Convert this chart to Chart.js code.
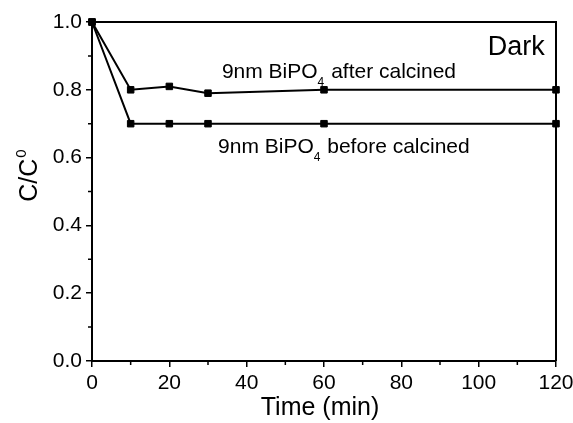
<!DOCTYPE html>
<html><head><meta charset="utf-8">
<script src="https://cdn.jsdelivr.net/npm/chart.js@4/dist/chart.umd.min.js"></script>
<style>html,body{margin:0;padding:0;background:#fff}#wrap{width:573px;height:423px}</style>
</head><body><div id="wrap"><canvas id="c" width="573" height="423"></canvas></div>
<script>
const times = [0, 10, 20, 30, 60, 120];
const afterCalcined = [1.0, 0.80, 0.81, 0.79, 0.80, 0.80];
const beforeCalcined = [1.0, 0.70, 0.70, 0.70, 0.70, 0.70];
const xTicks = [0, 20, 40, 60, 80, 100, 120];
const yTicks = [0.0, 0.2, 0.4, 0.6, 0.8, 1.0];
const xMinor = [10, 30, 50, 70, 90, 110];
const yMinor = [0.1, 0.3, 0.5, 0.7, 0.9];
const labelAfter = ["9nm BiPO", "4", " after calcined"];
const labelBefore = ["9nm BiPO", "4", " before calcined"];
const labelDark = "Dark";
const xTitle = "Time (min)";
const yTitle = ["C/C", "0"];
const FONT = '"Liberation Sans", Arial, sans-serif';

const toXY = (xs, ys) => xs.map((x, i) => ({x, y: ys[i]}));

const decor = {
  id: 'decor',
  afterDraw(chart) {
    const {ctx, chartArea: a, scales: {x, y}} = chart;
    ctx.save();
    ctx.strokeStyle = '#000';
    ctx.lineWidth = 2;
    // frame top & right
    ctx.beginPath();
    ctx.moveTo(a.left, a.top); ctx.lineTo(a.right, a.top); ctx.lineTo(a.right, a.bottom);
    ctx.stroke();
    // minor ticks
    ctx.lineWidth = 1.5;
    ctx.beginPath();
    xMinor.forEach(v => { const px = x.getPixelForValue(v); ctx.moveTo(px, a.bottom); ctx.lineTo(px, a.bottom + 4); });
    yMinor.forEach(v => { const py = y.getPixelForValue(v); ctx.moveTo(a.left, py); ctx.lineTo(a.left - 4, py); });
    ctx.stroke();
    // annotations
    ctx.fillStyle = '#000';
    ctx.textBaseline = 'alphabetic';
    ctx.textAlign = 'left';
    const drawSub = (parts, px, py, subDy) => {
      ctx.font = '21px ' + FONT;
      ctx.fillText(parts[0], px, py);
      let w = ctx.measureText(parts[0]).width;
      ctx.font = '12px ' + FONT;
      ctx.fillText(parts[1], px + w, py + subDy);
      w += ctx.measureText(parts[1]).width + 1;
      ctx.font = '21px ' + FONT;
      ctx.fillText(parts[2], px + w, py);
    };
    drawSub(labelAfter, x.getPixelForValue(33.6), y.getPixelForValue(0.834), 8);
    drawSub(labelBefore, x.getPixelForValue(32.6), y.getPixelForValue(0.615), 8);
    ctx.font = '27px ' + FONT;
    ctx.textAlign = 'right';
    ctx.fillText(labelDark, x.getPixelForValue(117.1), y.getPixelForValue(0.902));
    // x title
    ctx.textAlign = 'center';
    ctx.font = '25px ' + FONT;
    ctx.fillText(xTitle, (a.left + a.right) / 2 - 4, 415);
    // y title
    ctx.save();
    ctx.translate(37, 176);
    ctx.rotate(-Math.PI / 2);
    ctx.textAlign = 'left';
    ctx.font = '25px ' + FONT;
    const mw = ctx.measureText(yTitle[0]).width;
    ctx.font = '15px ' + FONT;
    const sw = ctx.measureText(yTitle[1]).width;
    ctx.font = '25px ' + FONT;
    ctx.fillText(yTitle[0], -(mw + sw) / 2, 0);
    ctx.font = '15px ' + FONT;
    ctx.fillText(yTitle[1], -(mw + sw) / 2 + mw + 1, -11);
    ctx.restore();
    ctx.restore();
  }
};

const ds = (label, data) => ({
  label, data: toXY(times, data),
  borderColor: '#000', backgroundColor: '#000', borderWidth: 2,
  pointStyle: 'rect', pointRadius: 4.6, pointHoverRadius: 4.6,
  pointBackgroundColor: '#000', pointBorderColor: '#000', pointBorderWidth: 1,
  tension: 0, fill: false, clip: false
});

new Chart(document.getElementById('c'), {
  type: 'line',
  data: { datasets: [ds('9nm BiPO4 after calcined', afterCalcined), ds('9nm BiPO4 before calcined', beforeCalcined)] },
  options: {
    responsive: false, animation: false, devicePixelRatio: 1,
    layout: { padding: { left: 0, right: 17, top: 22, bottom: 0 } },
    plugins: { legend: { display: false }, tooltip: { enabled: false } },
    scales: {
      x: {
        type: 'linear', min: 0, max: 120,
        afterBuildTicks: s => { s.ticks = xTicks.map(v => ({value: v})); },
        afterFit: s => { s.height = 62; s.paddingLeft = 0; s.paddingRight = 0; },
        ticks: { color: '#000', font: { family: FONT, size: 21 }, padding: 4, maxRotation: 0,
                 callback: v => String(v) },
        grid: { display: true, drawOnChartArea: false, drawTicks: true, tickLength: 6, color: '#000', lineWidth: 1.5 },
        border: { display: true, color: '#000', width: 2 }
      },
      y: {
        type: 'linear', min: 0, max: 1.0,
        afterBuildTicks: s => { s.ticks = yTicks.map(v => ({value: v})); },
        afterFit: s => { s.width = 92; s.paddingTop = 0; s.paddingBottom = 0; },
        ticks: { color: '#000', font: { family: FONT, size: 21 }, padding: 4,
                 callback: v => Number(v).toFixed(1) },
        grid: { display: true, drawOnChartArea: false, drawTicks: true, tickLength: 6, color: '#000', lineWidth: 1.5 },
        border: { display: true, color: '#000', width: 2 }
      }
    }
  },
  plugins: [decor]
});
</script></body></html>
